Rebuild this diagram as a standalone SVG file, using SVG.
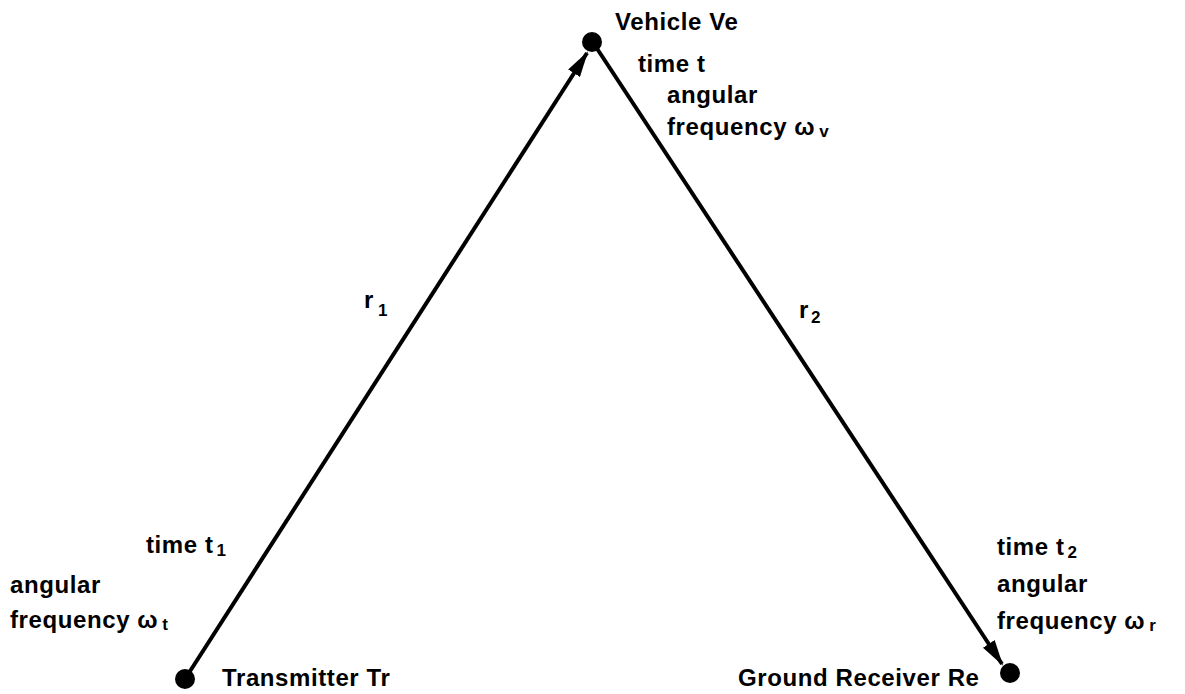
<svg xmlns="http://www.w3.org/2000/svg" width="1185" height="694" viewBox="0 0 1185 694">
<style>
text{font-family:"Liberation Sans",Arial,sans-serif;font-size:24px;font-weight:bold;letter-spacing:0.6px;fill:#000;}
.sub{font-size:17px;}
.ln{stroke:#000;stroke-width:4;fill:none;}
</style>
<defs>
<marker id="ah" viewBox="0 0 13 7" refX="12" refY="3.5" markerWidth="6.5" markerHeight="3.5" orient="auto" markerUnits="strokeWidth">
<path d="M0,0 L13,3.5 L0,7 Z" fill="#000"/>
</marker>
</defs>
<rect width="1185" height="694" fill="#fff"/>
<g id="connectors">
<line class="ln" x1="185" y1="679" x2="587" y2="53" marker-end="url(#ah)"/>
<line class="ln" x1="594" y1="44" x2="1002" y2="664" marker-end="url(#ah)"/>
<text x="364" y="308">r<tspan class="sub" dx="4" dy="8">1</tspan></text>
<text x="799" y="318">r<tspan class="sub" dx="2" dy="5">2</tspan></text>
</g>
<g id="vehicle">
<circle cx="592" cy="42" r="10" fill="#000"/>
<text x="615" y="30">Vehicle Ve</text>
<text x="638" y="72">time t</text>
<text x="667" y="103">angular</text>
<text x="667" y="135">frequency ω<tspan class="sub" dx="4" dy="2">v</tspan></text>
</g>
<g id="transmitter">
<circle cx="185" cy="679" r="10" fill="#000"/>
<text x="222" y="686">Transmitter Tr</text>
<text x="146" y="553">time t<tspan class="sub" dx="3" dy="3">1</tspan></text>
<text x="10" y="593">angular</text>
<text x="10" y="628">frequency ω<tspan class="sub" dx="4" dy="2">t</tspan></text>
</g>
<g id="receiver">
<circle cx="1010" cy="673" r="10" fill="#000"/>
<text x="738" y="686">Ground Receiver Re</text>
<text x="997" y="555">time t<tspan class="sub" dx="3" dy="3">2</tspan></text>
<text x="997" y="592">angular</text>
<text x="997" y="629">frequency ω<tspan class="sub" dx="4" dy="2">r</tspan></text>
</g>
</svg>
